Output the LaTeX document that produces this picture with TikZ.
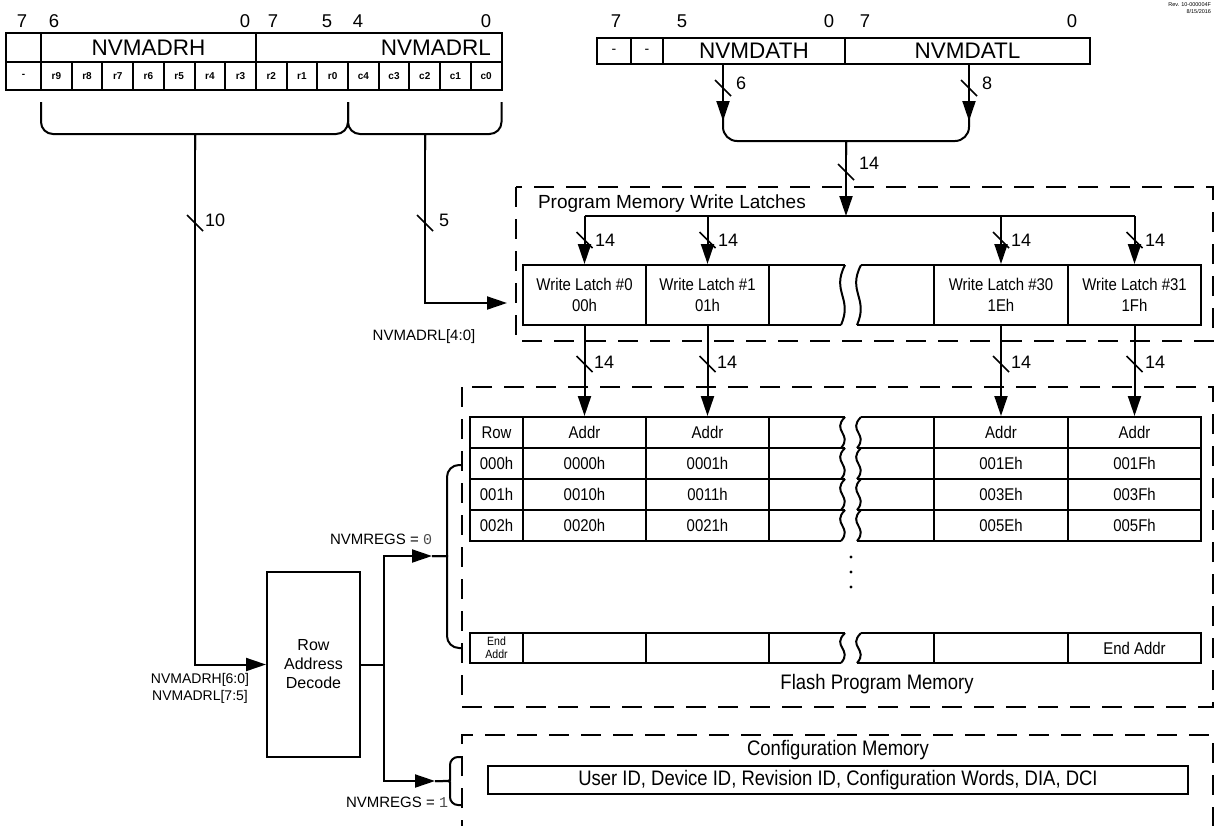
\documentclass[tikz,border=0pt]{standalone}
\usepackage{fontspec}
\setmainfont{Liberation Sans}
\newfontfamily\monof{Liberation Mono}
\newfontfamily\narrowf[FakeStretch=0.88]{Liberation Sans}
\usetikzlibrary{arrows.meta}
\newcommand\fsz[2]{\fontsize{#1}{#2}\selectfont}
% bus-width tick: name, x, y, label x, label y, text
\newcommand\bwtick[6]{%
  \draw[tickline] ({#2-8},{#3-8}) -- ({#2+8},{#3+8});
  \node[lab, anchor=west, font=\fsz{18}{18}] (#1) at (#4,#5) {#6};}
% break wave: x, top, bottom
\newcommand\wave[3]{%
  \pgfmathsetmacro\wvT{#2}\pgfmathsetmacro\wvB{#3}\pgfmathsetmacro\wvH{\wvB-\wvT}%
  \draw (#1,\wvT) .. controls ({#1-14},{\wvT+0.45*\wvH}) and ({#1+8},{\wvT+0.55*\wvH}) .. ({#1-4},\wvB);}
\begin{document}
\begin{tikzpicture}[x=1pt,y=-1pt,line width=2pt,
  arr/.style={-{Triangle[length=20pt,width=13pt]}},
  dbox/.style={line width=2pt, dash pattern=on 20pt off 12pt},
  cellbox/.style={draw, line width=2pt, inner sep=0pt, align=center, anchor=center},
  lab/.style={inner sep=0pt, align=center},
  tfont/.style={font=\narrowf\fsz{17}{17}},
  tickline/.style={line width=1.6pt}]
\useasboundingbox (0,0) rectangle (1215,825);

% ---------- NVMADRH / NVMADRL register ----------
\node[cellbox, minimum width=35pt, minimum height=29pt] (rh0) at (23.5,47.5) {};
\node[cellbox, minimum width=215pt, minimum height=29pt, font=\fsz{22.5}{24}] (rhn) at (148.5,47.5) {NVMADRH};
\node[cellbox, minimum width=245.5pt, minimum height=29pt] (rln) at (378.75,47.5) {};
\node[lab, anchor=east, font=\fsz{22.5}{24}] (rlt) at (492,48) {NVMADRL};
\node[cellbox, minimum width=35pt, minimum height=28pt, font=\fsz{10}{12}\bfseries] (bx) at (23.5,76) {-};
\foreach \t [count=\i from 0] in {r9,r8,r7,r6,r5,r4,r3,r2,r1,r0,c4,c3,c2,c1,c0}
  \node[cellbox, minimum width=30.7pt, minimum height=28pt, font=\fsz{10}{12}\bfseries] (b\i) at ({56.35+30.7*\i},76) {\t};
\foreach \t/\x [count=\i] in {7/22,6/54,0/245,7/273,5/327,4/358,0/486}
  \node[lab, font=\fsz{18.5}{18.5}] (bn\i) at (\x,21) {\t};

% braces under the register
\coordinate (adrh) at (195,150);
\coordinate (adrl) at (425,150);
\draw[rounded corners=12pt] (41,102) -- (41,134) -- (183,134) .. controls (195,134) .. (adrh);
\draw[rounded corners=12pt] (348,102) -- (348,134) -- (207,134) .. controls (195,134) .. (adrh);
\draw[rounded corners=12pt] (348,102) -- (348,134) -- (413,134) .. controls (425,134) .. (adrl);
\draw[rounded corners=12pt] (501.5,102) -- (501.5,134) -- (437,134) .. controls (425,134) .. (adrl);

% ---------- NVMDATH / NVMDATL register ----------
\node[cellbox, minimum width=34pt, minimum height=26pt, font=\fsz{14}{14}] (d7) at (614,51) {-};
\node[cellbox, minimum width=32pt, minimum height=26pt, font=\fsz{14}{14}] (d6) at (647,51) {-};
\node[cellbox, minimum width=182pt, minimum height=26pt, font=\fsz{22.5}{24}] (dh) at (754,51) {NVMDATH};
\node[cellbox, minimum width=245pt, minimum height=26pt, font=\fsz{22.5}{24}] (dl) at (967.5,51) {NVMDATL};
\foreach \t/\x [count=\i] in {7/616,5/682,0/829,7/865,0/1072}
  \node[lab, font=\fsz{18.5}{18.5}] (dn\i) at (\x,21) {\t};

\coordinate (dhs) at (723,64.5); \coordinate (dhe) at (723,121);
\coordinate (dls) at (969,64.5); \coordinate (dle) at (969,121);
\draw[arr] (dhs) -- (dhe);
\draw[arr] (dls) -- (dle);
\bwtick{t6}{723}{88}{735}{83}{6}
\bwtick{t8}{969}{88}{981}{83}{8}
\coordinate (dm) at (846,155);
\draw[rounded corners=14pt] (723,112) -- (723,141) -- (832,141) .. controls (846,141) .. (dm);
\draw[rounded corners=14pt] (969,112) -- (969,141) -- (860,141) .. controls (846,141) .. (dm);
\coordinate (busc) at (846,216);
\draw[arr] (dm) -- (busc);
\bwtick{t14m}{846}{172}{858}{163}{14}

% ---------- Write latches ----------
\draw[dbox] (516,187) rectangle (1213,341);
\node[lab, anchor=west, font=\fsz{19}{19}] (plt) at (537,204) {Program Memory Write Latches};
\node[cellbox, minimum width=123pt, minimum height=60pt, font=\narrowf\fsz{17}{21}] (L0) at (584.5,295) {Write Latch \#0\\00h};
\node[cellbox, minimum width=123pt, minimum height=60pt, font=\narrowf\fsz{17}{21}] (L1) at (707.5,295) {Write Latch \#1\\01h};
\node[cellbox, minimum width=134pt, minimum height=60pt, font=\narrowf\fsz{17}{21}] (L30) at (1001,295) {Write Latch \#30\\1Eh};
\node[cellbox, minimum width=133pt, minimum height=60pt, font=\narrowf\fsz{17}{21}] (L31) at (1134.5,295) {Write Latch \#31\\1Fh};
\draw (769,265) -- (845,265); \draw (769,325) -- (841,325);
\draw (861,265) -- (934,265); \draw (857,325) -- (934,325);
\wave{845}{265}{325}
\wave{861}{265}{325}

\coordinate (bus0) at (584.5,216);
\coordinate (bus31) at (1134.5,216);
\draw (bus0) -- (bus31);
\draw[arr] (bus0) -- (L0.north);
\draw[arr] (707.5,216) -- (L1.north);
\draw[arr] (1001,216) -- (L30.north);
\draw[arr] (bus31) -- (L31.north);
\bwtick{t14a}{584.5}{240}{594}{240}{14}
\bwtick{t14b}{707.5}{240}{717}{240}{14}
\bwtick{t14c}{1001}{240}{1010}{240}{14}
\bwtick{t14d}{1134.5}{240}{1144}{240}{14}

% NVMADRL[4:0] path
\coordinate (l5) at (507,303);
\draw[arr] (adrl) |- (l5);
\bwtick{t5}{425}{223}{438}{220}{5}
\node[lab, font=\fsz{15}{15}] (nl40) at (424,337) {NVMADRL[4:0]};

% ---------- Flash program memory ----------
\draw[dbox] (462,387) rectangle (1213,707);
\foreach \nm/\y/\r/\a/\b/\c/\d in {h/432.5/Row/Addr/Addr/Addr/Addr, ra/463.5/000h/0000h/0001h/001Eh/001Fh, rb/494.5/001h/0010h/0011h/003Eh/003Fh, rc/525.5/002h/0020h/0021h/005Eh/005Fh}{
  \node[cellbox, minimum width=53pt, minimum height=31pt, tfont] (\nm c) at (496.5,\y) {\r};
  \node[cellbox, minimum width=123pt, minimum height=31pt, tfont] (\nm a0) at (584.5,\y) {\a};
  \node[cellbox, minimum width=123pt, minimum height=31pt, tfont] (\nm a1) at (707.5,\y) {\b};
  \node[cellbox, minimum width=134pt, minimum height=31pt, tfont] (\nm a30) at (1001,\y) {\c};
  \node[cellbox, minimum width=133pt, minimum height=31pt, tfont] (\nm a31) at (1134.5,\y) {\d};
  \draw (769,{\y-15.5}) -- (845,{\y-15.5}); \draw (769,{\y+15.5}) -- (841,{\y+15.5});
  \draw (861,{\y-15.5}) -- (934,{\y-15.5}); \draw (857,{\y+15.5}) -- (934,{\y+15.5});
  \wave{845}{\y-15.5}{\y+15.5}
  \wave{861}{\y-15.5}{\y+15.5}
}
% end row
\node[cellbox, minimum width=53pt, minimum height=30pt, font=\narrowf\fsz{12}{13}] (ec) at (496.5,648) {End\\Addr};
\node[cellbox, minimum width=123pt, minimum height=30pt] (ea0) at (584.5,648) {};
\node[cellbox, minimum width=123pt, minimum height=30pt] (ea1) at (707.5,648) {};
\node[cellbox, minimum width=134pt, minimum height=30pt] (ea30) at (1001,648) {};
\node[cellbox, minimum width=133pt, minimum height=30pt, tfont] (ea31) at (1134.5,648) {End Addr};
\draw (769,633) -- (845,633); \draw (769,663) -- (841,663);
\draw (861,633) -- (934,633); \draw (857,663) -- (934,663);
\wave{845}{633}{663}
\wave{861}{633}{663}
\foreach \yy [count=\i] in {557,572,587} \fill (851,\yy) circle (1.6);
\node[lab, font=\narrowf\fsz{21}{21}] (fpm) at (877,684) {Flash Program Memory};

\draw[arr] (L0.south) -- (ha0.north);
\draw[arr] (L1.south) -- (ha1.north);
\draw[arr] (L30.south) -- (ha30.north);
\draw[arr] (L31.south) -- (ha31.north);
\bwtick{t14e}{584.5}{364}{593}{362}{14}
\bwtick{t14f}{707.5}{364}{716}{362}{14}
\bwtick{t14g}{1001}{364}{1010}{362}{14}
\bwtick{t14h}{1134.5}{364}{1144}{362}{14}

% flash brace
\coordinate (fb) at (432,556);
\draw[rounded corners=12pt] (462,465) -- (447,465) -- (447,544) .. controls (447,556) .. (fb);
\draw[rounded corners=12pt] (462,648) -- (447,648) -- (447,568) .. controls (447,556) .. (fb);

% ---------- Configuration memory ----------
\draw[dbox] (462,840) -- (462,735) -- (1213,735) -- (1213,840);
\node[lab, font=\narrowf\fsz{21}{21}] (cfm) at (838,750) {Configuration Memory};
\node[cellbox, minimum width=700pt, minimum height=28pt, font=\narrowf\fsz{21}{21}] (uid) at (838,780) {User ID, Device ID, Revision ID, Configuration Words, DIA, DCI};
\coordinate (cb) at (435,781);
\draw[rounded corners=8pt] (462,757) -- (450,757) -- (450,772) .. controls (450,781) .. (cb);
\draw[rounded corners=8pt] (462,805) -- (450,805) -- (450,790) .. controls (450,781) .. (cb);

% ---------- Row address decode ----------
\node[cellbox, minimum width=93pt, minimum height=185pt, font=\fsz{16}{19}] (dec) at (313.5,664.5) {Row\\Address\\Decode};
\draw[arr] (adrh) |- (dec.west);
\bwtick{t10}{195}{223}{204}{220}{10}
\coordinate (j) at (384,664.5);
\draw (dec.east) -- (j);
\draw[arr] (j) |- (fb);
\draw[arr] (j) |- (cb);
\node[lab, anchor=east, font=\fsz{15}{15}] (nr0) at (433,539) {NVMREGS = {\monof\color{black!70}0}};
\node[lab, anchor=east, font=\fsz{15}{15}] (nr1) at (449,802) {NVMREGS = {\monof\color{black!70}1}};
\node[lab, anchor=east, font=\fsz{14}{17}] (nadr) at (250,688.5) {NVMADRH[6:0]\\NVMADRL[7:5]};

% revision note
\node[lab, anchor=north east, align=right, font=\fsz{5.5}{6.5}] (rev) at (1212,2) {Rev. 10-000004F\\8/15/2016};
\end{tikzpicture}
\end{document}
